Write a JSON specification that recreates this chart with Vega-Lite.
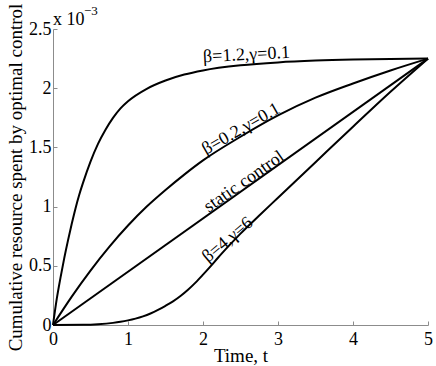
{
  "$schema": "https://vega.github.io/schema/vega-lite/v6.json",
  "width": 375,
  "height": 296,
  "autosize": {"type": "none"},
  "padding": {"left": 53, "top": 29, "right": 8, "bottom": 41},
  "background": "white",
  "config": {
    "view": {"stroke": null},
    "font": "Liberation Serif",
    "axis": {
      "labelFont": "Liberation Serif",
      "labelFontSize": 18,
      "labelColor": "black",
      "titleFont": "Liberation Serif",
      "titleFontSize": 19,
      "titleFontWeight": "normal",
      "titleColor": "black",
      "domainColor": "#8c8c8c",
      "tickColor": "#8c8c8c",
      "grid": false
    }
  },
  "datasets": {
    "curves": [
      {"s": "b12", "t": 0, "v": 0},
      {"s": "b12", "t": 0.05, "v": 0.22},
      {"s": "b12", "t": 0.1, "v": 0.4},
      {"s": "b12", "t": 0.15, "v": 0.565},
      {"s": "b12", "t": 0.2, "v": 0.715},
      {"s": "b12", "t": 0.25, "v": 0.855},
      {"s": "b12", "t": 0.3, "v": 0.985},
      {"s": "b12", "t": 0.35, "v": 1.1},
      {"s": "b12", "t": 0.4, "v": 1.2},
      {"s": "b12", "t": 0.5, "v": 1.38},
      {"s": "b12", "t": 0.6, "v": 1.53},
      {"s": "b12", "t": 0.7, "v": 1.65},
      {"s": "b12", "t": 0.8, "v": 1.75},
      {"s": "b12", "t": 0.9, "v": 1.83},
      {"s": "b12", "t": 1.0, "v": 1.89},
      {"s": "b12", "t": 1.25, "v": 1.995},
      {"s": "b12", "t": 1.5, "v": 2.065},
      {"s": "b12", "t": 1.75, "v": 2.115},
      {"s": "b12", "t": 2.0, "v": 2.15},
      {"s": "b12", "t": 2.5, "v": 2.193},
      {"s": "b12", "t": 3.0, "v": 2.218},
      {"s": "b12", "t": 3.5, "v": 2.233},
      {"s": "b12", "t": 4.0, "v": 2.242},
      {"s": "b12", "t": 4.5, "v": 2.247},
      {"s": "b12", "t": 5.0, "v": 2.25},
      {"s": "b02", "t": 0, "v": 0},
      {"s": "b02", "t": 0.25, "v": 0.24},
      {"s": "b02", "t": 0.5, "v": 0.46},
      {"s": "b02", "t": 0.75, "v": 0.66},
      {"s": "b02", "t": 1.0, "v": 0.84},
      {"s": "b02", "t": 1.25, "v": 1.0},
      {"s": "b02", "t": 1.5, "v": 1.14},
      {"s": "b02", "t": 1.75, "v": 1.27},
      {"s": "b02", "t": 2.0, "v": 1.39},
      {"s": "b02", "t": 2.5, "v": 1.59},
      {"s": "b02", "t": 3.0, "v": 1.77},
      {"s": "b02", "t": 3.5, "v": 1.92},
      {"s": "b02", "t": 4.0, "v": 2.04},
      {"s": "b02", "t": 4.5, "v": 2.15},
      {"s": "b02", "t": 5.0, "v": 2.25},
      {"s": "static", "t": 0, "v": 0},
      {"s": "static", "t": 5.0, "v": 2.25},
      {"s": "b4", "t": 0, "v": 0},
      {"s": "b4", "t": 0.4, "v": 0.002},
      {"s": "b4", "t": 0.6, "v": 0.007},
      {"s": "b4", "t": 0.8, "v": 0.018},
      {"s": "b4", "t": 0.9, "v": 0.027},
      {"s": "b4", "t": 1.0, "v": 0.039},
      {"s": "b4", "t": 1.1, "v": 0.054},
      {"s": "b4", "t": 1.2, "v": 0.073},
      {"s": "b4", "t": 1.3, "v": 0.097},
      {"s": "b4", "t": 1.4, "v": 0.127},
      {"s": "b4", "t": 1.5, "v": 0.162},
      {"s": "b4", "t": 1.6, "v": 0.2},
      {"s": "b4", "t": 1.7, "v": 0.245},
      {"s": "b4", "t": 1.8, "v": 0.298},
      {"s": "b4", "t": 1.9, "v": 0.358},
      {"s": "b4", "t": 2.0, "v": 0.425},
      {"s": "b4", "t": 2.1, "v": 0.495},
      {"s": "b4", "t": 2.2, "v": 0.568},
      {"s": "b4", "t": 2.35, "v": 0.672},
      {"s": "b4", "t": 2.5, "v": 0.772},
      {"s": "b4", "t": 2.75, "v": 0.925},
      {"s": "b4", "t": 3.0, "v": 1.075},
      {"s": "b4", "t": 3.5, "v": 1.375},
      {"s": "b4", "t": 4.0, "v": 1.675},
      {"s": "b4", "t": 4.5, "v": 1.97},
      {"s": "b4", "t": 5.0, "v": 2.25}
    ],
    "labels": [
      {"label": "β=1.2,γ=0.1", "t": 2.58, "v": 2.28, "ang": -3},
      {"label": "β=0.2,γ=0.1", "t": 2.51, "v": 1.655, "ang": -30},
      {"label": "static control", "t": 2.55, "v": 1.21, "ang": -35},
      {"label": "β=4,γ=6", "t": 2.33, "v": 0.718, "ang": -40}
    ],
    "exp": [
      {"t": 0, "v": 2.5, "base": "x 10", "sup": "−3"}
    ]
  },
  "layer": [
    {
      "data": {"name": "curves"},
      "mark": {"type": "line", "color": "black", "strokeWidth": 2, "interpolate": "monotone"},
      "encoding": {
        "x": {
          "field": "t", "type": "quantitative",
          "scale": {"domain": [0, 5], "nice": false},
          "axis": {"values": [0, 1, 2, 3, 4, 5], "format": "~g", "tickSize": -4, "labelPadding": 9, "title": "Time, t", "titlePadding": -2, "labelFlush": false}
        },
        "y": {
          "field": "v", "type": "quantitative",
          "scale": {"domain": [0, 2.5], "nice": false},
          "axis": {"values": [0, 0.5, 1, 1.5, 2, 2.5], "format": "~g", "tickSize": -4, "labelPadding": 6, "title": "Cumulative resource spent by optimal control", "titlePadding": 3, "labelFlush": false}
        },
        "detail": {"field": "s"}
      }
    },
    {
      "data": {"name": "labels"},
      "mark": {"type": "text", "font": "Liberation Serif", "fontSize": 18, "align": "center", "baseline": "middle", "color": "black"},
      "encoding": {
        "x": {"field": "t", "type": "quantitative"},
        "y": {"field": "v", "type": "quantitative"},
        "text": {"field": "label"},
        "angle": {"field": "ang", "type": "quantitative", "scale": null}
      }
    },
    {
      "data": {"name": "exp"},
      "mark": {"type": "text", "font": "Liberation Serif", "fontSize": 18, "align": "left", "baseline": "alphabetic", "dx": 0, "dy": -4, "color": "black"},
      "encoding": {
        "x": {"field": "t", "type": "quantitative"},
        "y": {"field": "v", "type": "quantitative"},
        "text": {"field": "base"}
      }
    },
    {
      "data": {"name": "exp"},
      "mark": {"type": "text", "font": "Liberation Serif", "fontSize": 13, "align": "left", "baseline": "alphabetic", "dx": 31, "dy": -14, "color": "black"},
      "encoding": {
        "x": {"field": "t", "type": "quantitative"},
        "y": {"field": "v", "type": "quantitative"},
        "text": {"field": "sup"}
      }
    }
  ]
}
